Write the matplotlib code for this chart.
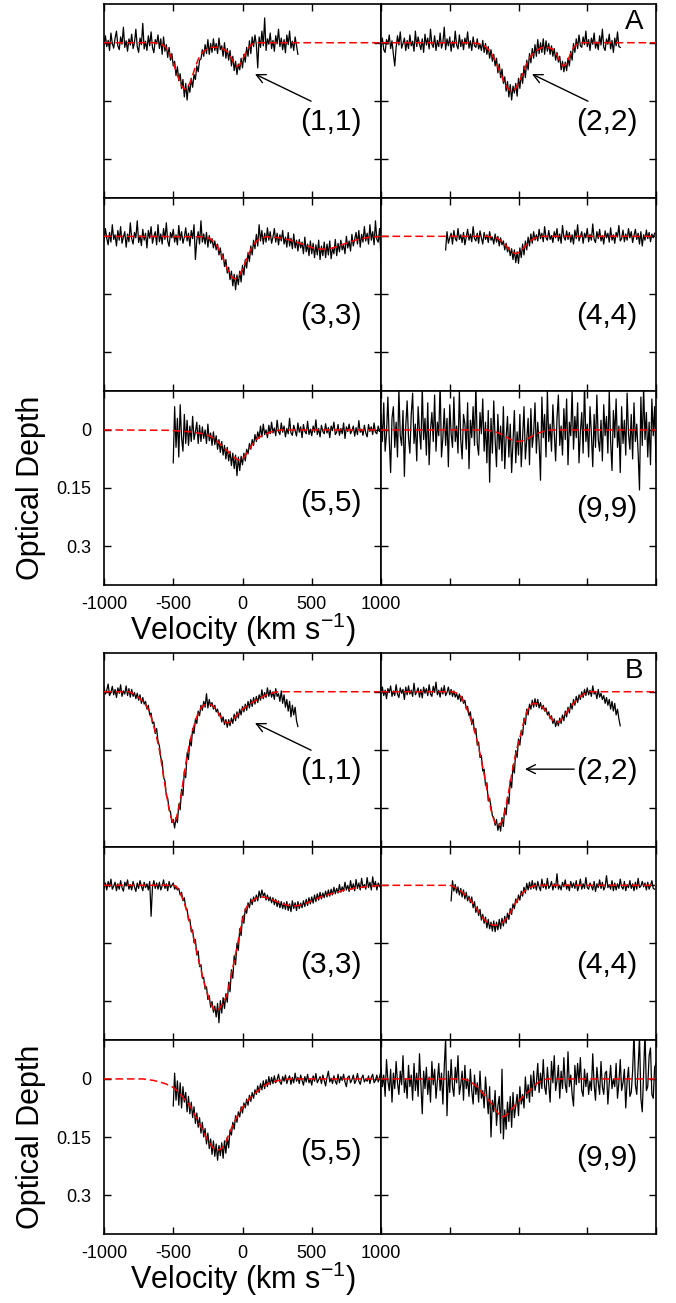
import numpy as np
import matplotlib
matplotlib.use("Agg")
import matplotlib.pyplot as plt

plt.rcParams['font.family'] = ['Liberation Sans', 'DejaVu Sans']
plt.rcParams['mathtext.fontset'] = 'custom'
plt.rcParams['mathtext.rm'] = 'Liberation Sans'

SPEC_STEP = 10  # km/s between spectrum channels
FIT_STEP = 20   # km/s between fit knots

VEL_TICKS = [-1000, -500, 0, 500, 1000]
VEL_LABELS = ['-1000', '-500', '0', '500', '1000']
TAU_TICKS = [0, 0.15, 0.3]
TAU_LABELS = ['0', '0.15', '0.3']

# ---- block A -------------------------------------------------------------
a11_v0 = -1000
a11_tau = [0.005, -0.018, 0.010, -0.006, 0.020, -0.025, 0.002, 0.014, -0.012, -0.030,
           0.008, 0.018, -0.015, 0.004, -0.040, 0.012, -0.005, 0.022, -0.010, 0.006,
           -0.022, 0.015, 0.000, -0.035, 0.010, 0.025, -0.012, 0.005, -0.050, 0.016,
           -0.004, 0.020, -0.018, 0.008, -0.028, 0.012, 0.026, -0.008, 0.003, -0.020,
           0.015, -0.010, 0.030, -0.015, 0.022, 0.005, 0.038, 0.012, 0.045, 0.028,
           0.060, 0.048, 0.085, 0.062, 0.098, 0.080, 0.118, 0.095, 0.140, 0.105,
           0.148, 0.110, 0.128, 0.092, 0.115, 0.082, 0.095, 0.060, 0.075, 0.045,
           0.042, 0.018, 0.035, 0.005, 0.028, -0.008, 0.030, 0.002, 0.025, -0.010,
           0.020, 0.002, 0.028, -0.012, 0.018, 0.008, 0.035, 0.000, 0.040, 0.015,
           0.045, 0.020, 0.060, 0.035, 0.072, 0.048, 0.082, 0.055, 0.070, 0.040,
           0.065, 0.030, 0.050, 0.012, 0.035, -0.005, 0.028, -0.015, 0.010, -0.020,
           0.005, 0.065, -0.015, 0.012, -0.030, 0.008, -0.064, 0.020, -0.010, 0.004,
           -0.025, 0.015, -0.006, 0.022, -0.018, 0.003, -0.035, 0.010, -0.012, 0.018,
           -0.008, 0.026, -0.020, 0.005, -0.030, 0.014, -0.004, 0.020, -0.015, 0.008,
           0.030]
a11_fit_v0 = -640
a11_fit = [0.000, 0.001, 0.002, 0.005, 0.010, 0.019, 0.033, 0.051, 0.073, 0.094,
           0.111, 0.120, 0.117, 0.104, 0.084, 0.062, 0.043, 0.030, 0.022, 0.017,
           0.013, 0.012, 0.012, 0.012, 0.013, 0.016, 0.020, 0.028, 0.040, 0.053,
           0.061, 0.057, 0.044, 0.028, 0.015, 0.006, 0.002, 0.000]

a22_v0 = -1000
a22_tau = [0.010, -0.012, 0.018, 0.025, -0.008, 0.004, -0.020, 0.015, -0.005, 0.030,
           0.060, 0.012, -0.018, 0.006, -0.028, 0.014, 0.002, -0.012, 0.020, -0.006,
           0.015, -0.020, 0.008, -0.004, 0.022, -0.030, 0.010, -0.015, 0.003, 0.018,
           -0.010, 0.025, -0.022, 0.006, -0.012, 0.016, -0.035, 0.004, 0.012, -0.018,
           0.020, -0.006, 0.010, -0.025, 0.014, 0.000, -0.040, 0.018, -0.010, 0.008,
           -0.015, 0.022, -0.004, 0.012, -0.030, 0.006, 0.016, -0.020, 0.010, -0.008,
           0.018, -0.012, 0.004, -0.028, 0.014, -0.005, 0.020, -0.015, 0.008, 0.012,
           -0.010, 0.016, 0.004, 0.020, -0.006, 0.025, 0.002, 0.030, 0.010, 0.040,
           0.018, 0.048, 0.030, 0.060, 0.040, 0.078, 0.055, 0.090, 0.068, 0.105,
           0.088, 0.125, 0.100, 0.140, 0.108, 0.148, 0.112, 0.130, 0.105, 0.138,
           0.092, 0.118, 0.080, 0.105, 0.060, 0.090, 0.045, 0.070, 0.028, 0.052,
           0.015, 0.040, 0.005, 0.035, -0.008, 0.028, 0.000, 0.025, -0.010, 0.030,
           -0.005, 0.022, 0.002, 0.030, 0.008, 0.035, 0.015, 0.045, 0.025, 0.050,
           0.035, 0.070, 0.048, 0.075, 0.050, 0.072, 0.040, 0.060, 0.022, 0.045,
           0.002, 0.025, -0.010, 0.015, -0.020, 0.008, 0.012, -0.015, 0.005, -0.030,
           0.010, -0.008, 0.020, -0.012, 0.004, -0.025, 0.014, -0.002, 0.018, -0.018,
           0.006, -0.035, 0.012, 0.020, -0.010, 0.004, -0.022, 0.016, -0.006, 0.025,
           -0.012, 0.008, -0.028, 0.010, 0.012]
a22_fit_v0 = -340
a22_fit = [0.000, 0.001, 0.002, 0.003, 0.006, 0.010, 0.017, 0.026, 0.039, 0.054,
           0.071, 0.089, 0.105, 0.117, 0.124, 0.124, 0.117, 0.105, 0.089, 0.071,
           0.054, 0.039, 0.030, 0.024, 0.018, 0.014, 0.012, 0.011, 0.013, 0.015,
           0.020, 0.032, 0.048, 0.060, 0.058, 0.045, 0.027, 0.013, 0.005, 0.001,
           0.000]

a33_v0 = -1000
a33_tau = [0.012, -0.020, 0.005, 0.022, -0.010, 0.015, -0.030, 0.008, -0.004, 0.025,
           -0.015, 0.010, -0.025, 0.018, 0.002, -0.012, 0.028, -0.006, 0.014, -0.035,
           0.006, 0.020, -0.010, 0.004, -0.040, 0.016, -0.002, 0.024, -0.018, 0.010,
           -0.008, 0.030, -0.015, 0.005, -0.025, 0.018, 0.000, -0.012, 0.022, -0.030,
           0.014, -0.006, 0.020, -0.020, 0.008, -0.035, 0.012, 0.026, -0.010, 0.004,
           -0.018, 0.015, -0.004, 0.022, -0.028, 0.010, -0.012, 0.018, 0.002, -0.022,
           0.012, -0.008, 0.025, -0.015, 0.006, -0.030, 0.060, 0.010, -0.012, 0.020,
           -0.040, 0.015, -0.006, 0.020, -0.010, 0.028, -0.002, 0.018, 0.006, 0.030,
           0.012, 0.035, 0.020, 0.048, 0.030, 0.060, 0.045, 0.078, 0.060, 0.095,
           0.080, 0.112, 0.090, 0.128, 0.098, 0.138, 0.100, 0.125, 0.090, 0.118,
           0.075, 0.100, 0.060, 0.082, 0.042, 0.065, 0.025, 0.048, 0.010, 0.032,
           -0.005, 0.025, -0.030, 0.012, -0.015, 0.020, -0.008, 0.015, -0.022, 0.010,
           -0.012, 0.018, 0.002, -0.020, 0.015, -0.008, 0.022, -0.004, 0.012, -0.015,
           0.020, 0.002, 0.028, -0.010, 0.025, 0.005, 0.032, -0.006, 0.030, 0.010,
           0.038, 0.008, 0.030, 0.015, 0.045, 0.002, 0.040, 0.020, 0.050, 0.012,
           0.045, 0.018, 0.055, 0.022, 0.048, 0.010, 0.060, 0.025, 0.050, 0.015,
           0.055, 0.020, 0.048, 0.012, 0.058, 0.030, 0.045, 0.008, 0.050, 0.018,
           0.040, 0.010, 0.035, 0.022, 0.045, 0.000, 0.030, 0.012, 0.038, -0.005,
           0.025, 0.008, -0.010, 0.020, -0.015, 0.028, -0.005, 0.015, -0.025, 0.012,
           -0.008, 0.020, -0.030, 0.010, -0.012, 0.022, -0.040, 0.008, 0.015, -0.020,
           0.060]
a33_fit_v0 = -300
a33_fit = [0.001, 0.001, 0.003, 0.005, 0.010, 0.017, 0.027, 0.041, 0.058, 0.076,
           0.092, 0.104, 0.110, 0.108, 0.099, 0.084, 0.067, 0.049, 0.034, 0.022,
           0.013, 0.007, 0.004, 0.002, 0.001, 0.002, 0.002, 0.003, 0.003, 0.005,
           0.006, 0.008, 0.009, 0.012, 0.014, 0.016, 0.019, 0.021, 0.024, 0.026,
           0.029, 0.031, 0.032, 0.033, 0.033, 0.033, 0.032, 0.031, 0.029, 0.027,
           0.024, 0.021, 0.019, 0.016, 0.014, 0.012, 0.009, 0.008, 0.006, 0.005,
           0.003, 0.003, 0.002, 0.001, 0.001, 0.000]

a44_v0 = -530
a44_tau = [0.035, -0.012, 0.018, 0.004, -0.008, 0.020, -0.015, 0.006, 0.012, -0.020,
           0.008, -0.004, 0.016, -0.010, 0.022, 0.002, -0.018, 0.010, -0.006, 0.014,
           -0.025, 0.006, 0.012, -0.008, 0.018, -0.014, 0.004, 0.020, -0.010, 0.008,
           -0.004, 0.016, -0.012, 0.010, 0.002, 0.020, -0.006, 0.015, 0.000, 0.025,
           0.004, 0.022, 0.012, 0.035, 0.018, 0.040, 0.028, 0.050, 0.032, 0.060,
           0.035, 0.068, 0.040, 0.070, 0.030, 0.055, 0.020, 0.048, 0.012, 0.035,
           0.002, 0.025, -0.006, 0.018, -0.012, 0.010, -0.004, 0.012, -0.018, 0.006,
           -0.008, 0.014, -0.025, 0.004, 0.010, -0.015, 0.008, -0.002, 0.016, -0.012,
           0.004, -0.020, 0.012, -0.006, 0.018, -0.028, 0.002, 0.010, -0.014, 0.008,
           -0.010, 0.015, -0.004, 0.020, -0.016, 0.006, -0.030, 0.012, 0.000, -0.012,
           0.018, -0.008, 0.004, -0.020, 0.014, -0.005, 0.010, -0.032, 0.008, 0.016,
           -0.012, 0.006, -0.018, 0.012, -0.002, 0.020, -0.014, 0.004, -0.008, 0.015,
           -0.022, 0.010, -0.004, 0.018, -0.010, 0.002, -0.028, 0.012, 0.006, -0.016,
           0.014, -0.006, 0.010, -0.020, 0.004, -0.012, 0.016, -0.002, -0.018, 0.008,
           -0.008, 0.020, -0.012, 0.025, -0.004, 0.010, -0.016, 0.006, -0.010, 0.014,
           -0.006, 0.004, -0.008]
a44_fit_v0 = -230
a44_fit = [0.000, 0.001, 0.001, 0.003, 0.006, 0.011, 0.017, 0.025, 0.033, 0.040,
           0.044, 0.044, 0.040, 0.033, 0.025, 0.017, 0.011, 0.006, 0.003, 0.001,
           0.000]

a55_v0 = -500
a55_tau = [0.085, -0.060, 0.045, -0.030, 0.070, -0.065, 0.020, 0.055, -0.040, 0.035,
           -0.025, 0.040, -0.010, 0.030, -0.035, 0.025, 0.005, -0.020, 0.035, -0.012,
           0.030, -0.008, 0.022, 0.000, 0.035, -0.015, 0.028, 0.008, 0.040, 0.005,
           0.038, 0.015, 0.050, 0.025, 0.058, 0.030, 0.065, 0.040, 0.075, 0.045,
           0.080, 0.055, 0.092, 0.060, 0.100, 0.065, 0.118, 0.070, 0.105, 0.068,
           0.090, 0.060, 0.080, 0.050, 0.062, 0.035, 0.050, 0.025, 0.040, 0.012,
           0.030, 0.005, 0.022, -0.010, 0.018, -0.015, 0.012, 0.000, 0.020, -0.012,
           0.010, -0.020, 0.008, -0.005, 0.015, -0.025, 0.004, 0.012, -0.018, 0.006,
           -0.010, 0.018, -0.004, 0.010, -0.030, 0.008, 0.014, -0.012, 0.002, 0.016,
           -0.018, 0.006, -0.008, 0.020, -0.014, 0.004, 0.010, -0.022, 0.012, -0.002,
           0.015, -0.010, 0.006, -0.026, 0.012, -0.004, 0.018, -0.012, 0.004, 0.010,
           -0.016, 0.008, -0.006, 0.020, -0.010, 0.002, -0.020, 0.012, 0.006, -0.014,
           0.014, -0.004, 0.010, -0.018, 0.022, -0.008, 0.004, -0.015, 0.010, 0.002,
           -0.010, 0.016, -0.006, 0.012, -0.024, 0.006, -0.002, 0.014, -0.012, 0.008,
           0.018, -0.014, 0.004, -0.008, 0.012, -0.018, 0.006, 0.010, -0.010, 0.004,
           -0.005]
a55_fit_v0 = -520
a55_fit = [0.001, 0.002, 0.002, 0.003, 0.003, 0.004, 0.004, 0.005, 0.006, 0.007,
           0.008, 0.009, 0.010, 0.012, 0.015, 0.019, 0.024, 0.030, 0.037, 0.044,
           0.051, 0.058, 0.065, 0.071, 0.076, 0.078, 0.075, 0.066, 0.055, 0.043,
           0.033, 0.025, 0.019, 0.015, 0.012, 0.009, 0.006, 0.004, 0.002, 0.001,
           0.000]

a99_v0 = -1000
a99_tau = [-0.040, 0.030, -0.070, 0.055, 0.010, -0.085, 0.025, 0.110, -0.030, -0.060,
           0.045, -0.020, 0.070, -0.105, 0.015, 0.040, -0.050, 0.120, -0.010, -0.075,
           0.020, 0.060, -0.040, -0.095, 0.035, -0.015, 0.080, -0.060, 0.005, 0.050,
           -0.110, 0.025, -0.030, 0.065, -0.070, 0.090, 0.000, -0.045, 0.030, -0.090,
           0.055, -0.020, 0.015, -0.120, 0.070, 0.020, -0.055, 0.040, -0.030, 0.095,
           -0.065, 0.010, 0.045, -0.085, 0.030, -0.010, 0.060, -0.100, 0.025, 0.075,
           -0.040, -0.015, 0.050, -0.070, 0.100, -0.025, 0.020, -0.060, 0.040, -0.115,
           0.035, 0.065, -0.045, 0.010, -0.080, 0.055, -0.020, 0.085, -0.050, 0.135,
           -0.030, 0.060, -0.075, 0.025, 0.095, -0.040, 0.050, -0.010, 0.080, -0.060,
           0.100, 0.020, -0.035, 0.070, -0.015, 0.110, 0.030, -0.050, 0.085, 0.005,
           0.065, -0.040, 0.095, 0.015, -0.060, 0.075, 0.025, -0.030, 0.090, -0.055,
           0.045, 0.010, -0.070, 0.060, -0.020, 0.035, 0.130, -0.085, 0.020, -0.040,
           0.070, -0.100, 0.030, -0.015, 0.055, -0.065, 0.010, 0.080, -0.030, -0.090,
           0.040, -0.010, 0.065, -0.055, 0.025, -0.080, 0.090, -0.020, 0.015, -0.105,
           0.050, -0.035, 0.020, -0.070, 0.085, 0.005, -0.045, 0.060, -0.120, 0.030,
           -0.015, 0.070, -0.060, 0.010, 0.095, -0.040, 0.045, -0.090, 0.025, 0.055,
           -0.025, 0.080, -0.065, 0.015, -0.035, 0.060, -0.100, 0.030, 0.105, -0.050,
           0.020, -0.080, 0.045, -0.010, 0.110, -0.060, 0.035, -0.025, 0.065, -0.095,
           0.010, 0.050, -0.040, 0.075, -0.070, 0.030, -0.015, 0.060, 0.155, -0.085,
           0.040, -0.110, 0.025, -0.045, 0.070, -0.020, 0.090, -0.080, 0.015, -0.060,
           0.085]
a99_fit_v0 = -240
a99_fit = [0.000, 0.001, 0.003, 0.004, 0.006, 0.009, 0.012, 0.016, 0.020, 0.024,
           0.027, 0.029, 0.030, 0.029, 0.027, 0.024, 0.020, 0.016, 0.012, 0.009,
           0.006, 0.004, 0.003, 0.001, 0.000]

# ---- block B -------------------------------------------------------------
b11_v0 = -1000
b11_tau = [-0.012, 0.006, -0.004, -0.020, 0.010, 0.002, -0.014, 0.008, -0.006, 0.015,
           -0.010, 0.004, -0.018, 0.012, -0.002, 0.006, -0.015, 0.010, -0.008, 0.014,
           -0.006, 0.012, 0.002, 0.018, 0.004, 0.022, 0.008, 0.030, 0.015, 0.032,
           0.025, 0.045, 0.035, 0.060, 0.055, 0.082, 0.078, 0.108, 0.095, 0.128,
           0.140, 0.170, 0.180, 0.222, 0.230, 0.268, 0.275, 0.305, 0.310, 0.338,
           0.330, 0.352, 0.325, 0.338, 0.290, 0.305, 0.252, 0.268, 0.205, 0.222,
           0.158, 0.175, 0.125, 0.140, 0.095, 0.108, 0.070, 0.082, 0.050, 0.062,
           0.035, 0.048, 0.025, 0.040, 0.005, 0.042, 0.020, 0.038, 0.028, 0.045,
           0.035, 0.052, 0.045, 0.062, 0.055, 0.078, 0.065, 0.085, 0.072, 0.092,
           0.072, 0.088, 0.068, 0.082, 0.058, 0.075, 0.052, 0.068, 0.045, 0.060,
           0.038, 0.052, 0.032, 0.048, 0.025, 0.042, 0.020, 0.038, 0.015, 0.032,
           0.012, 0.028, 0.008, 0.022, -0.005, 0.018, 0.002, 0.015, -0.010, 0.012,
           -0.004, 0.014, 0.000, 0.020, -0.008, 0.012, 0.005, 0.025, -0.002, 0.030,
           0.008, 0.040, 0.020, 0.050, 0.025, 0.065, 0.035, 0.060, 0.040, 0.075,
           0.090]
b11_fit_v0 = -820
b11_fit = [0.000, 0.003, 0.007, 0.012, 0.018, 0.025, 0.034, 0.045, 0.065, 0.090,
           0.118, 0.150, 0.195, 0.240, 0.285, 0.320, 0.340, 0.330, 0.300, 0.260,
           0.210, 0.165, 0.130, 0.100, 0.075, 0.055, 0.042, 0.035, 0.032, 0.032,
           0.035, 0.042, 0.052, 0.064, 0.074, 0.080, 0.080, 0.076, 0.068, 0.060,
           0.052, 0.045, 0.040, 0.035, 0.030, 0.026, 0.022, 0.018, 0.014, 0.010,
           0.007, 0.005, 0.003, 0.001, 0.000]

b22_v0 = -1000
b22_tau = [0.005, -0.012, 0.010, -0.004, 0.018, -0.008, 0.002, -0.015, 0.012, -0.002,
           0.010, -0.018, 0.006, 0.015, -0.010, 0.004, -0.006, 0.020, -0.012, 0.008,
           -0.015, 0.006, -0.004, 0.012, -0.022, 0.008, 0.000, -0.010, 0.014, -0.006,
           0.016, -0.012, 0.004, -0.008, 0.010, -0.018, 0.006, 0.012, -0.014, 0.002,
           -0.025, 0.008, -0.004, 0.014, -0.010, 0.006, -0.016, 0.010, 0.002, -0.012,
           0.008, -0.006, 0.012, -0.002, 0.014, 0.004, 0.020, 0.006, 0.025, 0.012,
           0.030, 0.022, 0.045, 0.038, 0.062, 0.052, 0.085, 0.070, 0.105, 0.095,
           0.138, 0.130, 0.170, 0.165, 0.205, 0.200, 0.242, 0.235, 0.282, 0.275,
           0.298, 0.320, 0.325, 0.345, 0.330, 0.358, 0.340, 0.360, 0.325, 0.348,
           0.300, 0.318, 0.272, 0.290, 0.228, 0.248, 0.190, 0.210, 0.152, 0.170,
           0.122, 0.138, 0.100, 0.112, 0.068, 0.085, 0.045, 0.060, 0.032, 0.045,
           0.022, 0.040, 0.018, 0.038, 0.020, 0.042, 0.028, 0.045, 0.035, 0.050,
           0.042, 0.060, 0.052, 0.070, 0.062, 0.082, 0.070, 0.090, 0.075, 0.088,
           0.068, 0.082, 0.060, 0.075, 0.050, 0.065, 0.040, 0.055, 0.030, 0.045,
           0.020, 0.035, 0.012, 0.028, 0.008, 0.020, 0.000, 0.015, -0.006, 0.010,
           -0.010, 0.008, -0.004, 0.012, -0.015, 0.006, 0.000, 0.018, -0.006, 0.014,
           0.004, 0.020, 0.010, 0.030, 0.015, 0.035, 0.020, 0.045, 0.025, 0.050,
           0.030, 0.060, 0.045, 0.070, 0.088]
b22_fit_v0 = -480
b22_fit = [0.000, 0.002, 0.005, 0.012, 0.025, 0.040, 0.058, 0.078, 0.100, 0.128,
           0.160, 0.195, 0.232, 0.270, 0.305, 0.330, 0.345, 0.345, 0.335, 0.310,
           0.275, 0.235, 0.195, 0.160, 0.130, 0.105, 0.075, 0.052, 0.038, 0.031,
           0.030, 0.032, 0.036, 0.042, 0.050, 0.060, 0.070, 0.078, 0.080, 0.076,
           0.068, 0.058, 0.048, 0.038, 0.030, 0.022, 0.016, 0.010, 0.005, 0.002,
           0.000]

b33_v0 = -1000
b33_tau = [0.008, -0.006, 0.012, -0.010, 0.004, -0.016, 0.010, 0.002, -0.008, 0.014,
           -0.004, 0.010, -0.012, 0.006, 0.015, -0.008, 0.002, -0.014, 0.010, -0.002,
           0.012, -0.010, 0.004, 0.016, -0.006, 0.008, -0.012, 0.002, 0.014, -0.008,
           0.006, -0.004, 0.012, -0.010, 0.080, 0.004, -0.012, 0.008, -0.006, 0.010,
           -0.008, 0.012, 0.002, -0.014, 0.008, -0.004, 0.014, -0.010, 0.006, 0.000,
           -0.006, 0.010, 0.004, 0.012, 0.008, 0.025, 0.018, 0.040, 0.032, 0.058,
           0.062, 0.090, 0.088, 0.120, 0.115, 0.148, 0.140, 0.180, 0.170, 0.210,
           0.205, 0.240, 0.238, 0.268, 0.262, 0.295, 0.285, 0.315, 0.300, 0.328,
           0.312, 0.340, 0.305, 0.355, 0.298, 0.330, 0.290, 0.318, 0.280, 0.302,
           0.250, 0.275, 0.218, 0.240, 0.182, 0.205, 0.150, 0.168, 0.112, 0.130,
           0.080, 0.098, 0.060, 0.072, 0.045, 0.058, 0.035, 0.050, 0.030, 0.042,
           0.025, 0.040, 0.015, 0.032, 0.012, 0.028, 0.020, 0.038, 0.025, 0.040,
           0.030, 0.045, 0.032, 0.050, 0.036, 0.055, 0.040, 0.058, 0.042, 0.060,
           0.045, 0.062, 0.042, 0.065, 0.048, 0.068, 0.040, 0.060, 0.045, 0.065,
           0.042, 0.060, 0.046, 0.058, 0.040, 0.055, 0.036, 0.052, 0.032, 0.048,
           0.030, 0.046, 0.025, 0.042, 0.022, 0.038, 0.018, 0.035, 0.020, 0.032,
           0.015, 0.030, 0.012, 0.028, 0.010, 0.025, 0.005, 0.022, 0.008, 0.020,
           -0.002, 0.018, 0.004, 0.015, -0.008, 0.012, 0.000, 0.016, -0.012, 0.010,
           -0.004, 0.014, -0.015, 0.008, -0.006, 0.012, -0.018, 0.006, -0.002, 0.010,
           -0.020, 0.006, -0.008, 0.012, -0.022, 0.004, -0.010, 0.012, -0.006, 0.002,
           0.008]
b33_fit_v0 = -500
b33_fit = [0.000, 0.002, 0.012, 0.028, 0.045, 0.070, 0.098, 0.125, 0.155, 0.190,
           0.218, 0.248, 0.272, 0.295, 0.312, 0.323, 0.322, 0.315, 0.303, 0.290,
           0.265, 0.230, 0.195, 0.160, 0.122, 0.090, 0.063, 0.050, 0.042, 0.038,
           0.033, 0.030, 0.030, 0.031, 0.033, 0.035, 0.038, 0.041, 0.044, 0.047,
           0.049, 0.051, 0.052, 0.053, 0.053, 0.052, 0.051, 0.049, 0.046, 0.043,
           0.040, 0.037, 0.034, 0.031, 0.028, 0.026, 0.024, 0.022, 0.020, 0.018,
           0.016, 0.014, 0.012, 0.011, 0.010, 0.008, 0.007, 0.006, 0.005, 0.004,
           0.003, 0.002, 0.002, 0.001, 0.001, 0.000]

b44_v0 = -490
b44_tau = [0.040, -0.012, 0.015, -0.002, 0.020, 0.004, 0.025, 0.008, 0.030, 0.012,
           0.035, 0.018, 0.040, 0.028, 0.045, 0.030, 0.058, 0.042, 0.070, 0.055,
           0.078, 0.062, 0.090, 0.075, 0.098, 0.082, 0.110, 0.088, 0.112, 0.095,
           0.118, 0.092, 0.120, 0.095, 0.115, 0.088, 0.112, 0.085, 0.105, 0.080,
           0.098, 0.072, 0.088, 0.060, 0.075, 0.048, 0.060, 0.035, 0.045, 0.025,
           0.038, 0.015, 0.028, 0.005, 0.020, -0.005, 0.012, -0.008, 0.010, -0.012,
           0.008, -0.006, 0.012, -0.010, 0.004, 0.014, -0.016, 0.006, -0.004, 0.010,
           -0.018, 0.008, 0.002, -0.010, 0.012, -0.004, 0.006, -0.030, 0.010, 0.000,
           0.012, -0.008, 0.004, -0.014, 0.010, -0.002, 0.014, -0.010, 0.006, -0.006,
           0.008, -0.012, 0.014, 0.002, -0.016, 0.010, -0.004, 0.008, -0.020, 0.006,
           0.010, -0.006, 0.002, 0.012, -0.010, 0.016, -0.004, 0.006, -0.014, 0.008,
           -0.008, 0.012, 0.004, -0.025, 0.006, -0.002, 0.010, -0.012, 0.014, -0.006,
           0.012, -0.004, 0.008, -0.016, 0.004, 0.010, -0.010, 0.014, -0.002, 0.006,
           -0.012, 0.008, -0.004, 0.014, -0.008, 0.010, -0.018, 0.006, 0.002, -0.010,
           0.004, -0.006, 0.012, -0.008, 0.010, 0.000, -0.012, 0.008, 0.010]
b44_fit_v0 = -500
b44_fit = [0.000, 0.002, 0.006, 0.010, 0.015, 0.021, 0.027, 0.034, 0.043, 0.053,
           0.063, 0.074, 0.084, 0.092, 0.097, 0.101, 0.103, 0.103, 0.101, 0.097,
           0.090, 0.082, 0.070, 0.058, 0.045, 0.033, 0.024, 0.016, 0.010, 0.006,
           0.003, 0.001, 0.000]

b55_v0 = -500
b55_tau = [0.070, -0.015, 0.055, 0.005, 0.068, 0.010, 0.075, 0.020, 0.060, 0.035,
           0.085, 0.045, 0.090, 0.060, 0.100, 0.072, 0.115, 0.088, 0.125, 0.100,
           0.140, 0.112, 0.150, 0.128, 0.168, 0.140, 0.180, 0.155, 0.195, 0.160,
           0.200, 0.168, 0.210, 0.172, 0.198, 0.165, 0.205, 0.160, 0.192, 0.150,
           0.178, 0.132, 0.145, 0.112, 0.130, 0.095, 0.112, 0.085, 0.098, 0.072,
           0.088, 0.062, 0.075, 0.052, 0.068, 0.042, 0.058, 0.035, 0.050, 0.028,
           0.040, 0.018, 0.035, 0.012, 0.028, 0.005, 0.025, 0.002, 0.020, -0.006,
           0.015, -0.004, 0.012, -0.008, 0.010, 0.002, -0.012, 0.008, 0.014, -0.006,
           0.006, -0.010, 0.012, 0.000, -0.008, 0.014, -0.004, 0.010, -0.015, 0.006,
           -0.004, 0.012, -0.010, 0.004, 0.016, -0.006, 0.008, -0.012, 0.010, 0.000,
           0.016, -0.008, 0.006, -0.014, 0.010, 0.002, -0.006, 0.012, -0.010, 0.004,
           0.018, -0.004, -0.020, 0.008, -0.002, 0.012, -0.008, 0.006, 0.014, -0.012,
           0.010, -0.006, 0.004, -0.012, 0.008, 0.020, -0.004, -0.008, 0.010, 0.002,
           -0.010, 0.012, 0.004, -0.014, 0.006, 0.014, -0.002, -0.010, 0.008, 0.000,
           0.006, -0.008, 0.012, -0.004, -0.012, 0.010, 0.004, -0.010, 0.008, -0.006,
           -0.020]
b55_fit_v0 = -720
b55_fit = [0.000, 0.001, 0.002, 0.003, 0.004, 0.006, 0.008, 0.010, 0.012, 0.015,
           0.018, 0.022, 0.028, 0.035, 0.043, 0.052, 0.060, 0.070, 0.082, 0.096,
           0.110, 0.124, 0.138, 0.152, 0.165, 0.175, 0.182, 0.184, 0.182, 0.175,
           0.162, 0.145, 0.128, 0.112, 0.098, 0.085, 0.074, 0.064, 0.055, 0.047,
           0.040, 0.034, 0.028, 0.022, 0.017, 0.013, 0.010, 0.008, 0.006, 0.004,
           0.003, 0.002, 0.001, 0.000]

b99_v0 = -1000
b99_tau = [-0.030, 0.020, -0.010, 0.045, -0.050, 0.005, 0.030, -0.025, 0.060, -0.015,
           0.025, -0.045, 0.010, 0.040, -0.020, 0.015, -0.060, 0.035, 0.000, 0.050,
           -0.035, 0.020, -0.010, 0.055, -0.040, 0.030, -0.015, 0.045, -0.065, 0.010,
           0.090, -0.020, 0.025, -0.030, 0.040, -0.005, 0.060, -0.045, 0.015, -0.025,
           0.050, 0.005, -0.040, 0.030, -0.015, 0.065, -0.030, -0.105, 0.095, -0.020,
           0.035, -0.050, 0.020, 0.045, -0.030, 0.010, -0.060, 0.040, 0.015, -0.020,
           0.055, -0.035, 0.025, 0.000, 0.045, -0.025, 0.030, 0.065, -0.010, 0.040,
           0.010, 0.060, -0.020, 0.050, 0.030, 0.075, -0.005, 0.045, 0.090, 0.020,
           0.150, 0.055, 0.085, 0.030, 0.120, 0.070, 0.045, 0.140, -0.025, 0.155,
           0.080, 0.130, 0.060, 0.110, 0.045, 0.125, 0.035, 0.100, 0.070, 0.040,
           0.095, 0.020, 0.065, 0.040, 0.075, -0.005, 0.050, 0.015, 0.060, -0.010,
           0.045, -0.020, 0.030, 0.010, -0.040, 0.035, -0.015, 0.025, -0.050, 0.020,
           0.040, -0.030, 0.015, 0.060, -0.045, 0.010, -0.060, 0.030, 0.005, -0.035,
           0.050, -0.020, 0.025, -0.055, 0.015, 0.035, -0.070, 0.020, -0.010, 0.040,
           0.070, -0.035, 0.015, -0.040, 0.010, -0.055, 0.030, 0.045, -0.025, 0.020,
           -0.015, 0.040, 0.005, 0.030, -0.065, 0.015, 0.055, -0.030, 0.010, 0.040,
           -0.045, 0.020, 0.040, -0.015, -0.020, 0.065, 0.010, -0.035, 0.025, 0.000,
           0.020, -0.040, 0.050, 0.010, -0.050, 0.030, 0.010, -0.025, 0.075, 0.005,
           -0.030, 0.045, 0.035, -0.020, -0.120, 0.015, 0.040, -0.030, -0.110, 0.050,
           0.085, -0.015, -0.125, 0.030, 0.020, -0.060, -0.080, 0.040, 0.050, -0.030,
           -0.040]
b99_fit_v0 = -400
b99_fit = [0.000, 0.002, 0.005, 0.010, 0.015, 0.021, 0.029, 0.037, 0.045, 0.053,
           0.062, 0.072, 0.083, 0.093, 0.098, 0.096, 0.090, 0.082, 0.074, 0.066,
           0.058, 0.050, 0.043, 0.037, 0.030, 0.023, 0.016, 0.010, 0.006, 0.003,
           0.001, 0.000]

# ---- layout (pixels of the 676x1303 image) --------------------------------
FIG_W, FIG_H = 676, 1303
COL_X = [104, 381]
COL_W = [277, 275]
BLOCK_TOP = [4, 653]
ROW_H = 193.6


def panel_rect(block, row, col):
    top = BLOCK_TOP[block] + row * ROW_H
    return [COL_X[col] / FIG_W, 1 - (top + ROW_H) / FIG_H,
            COL_W[col] / FIG_W, ROW_H / FIG_H]


def draw_panel(ax, v0, tau, fit_v0, fit, label, label_y):
    v = v0 + SPEC_STEP * np.arange(len(tau))
    ax.plot(v, tau, color='black', lw=0.9, zorder=2)
    fv = np.concatenate([[-1000], fit_v0 + FIT_STEP * np.arange(len(fit)), [1000]])
    ft = np.concatenate([[0.0], fit, [0.0]])
    ax.plot(fv, ft, color='red', lw=1.1, dashes=(5, 2.5), zorder=3)

    ax.set_xlim(-1000, 1000)
    ax.set_ylim(0.4, -0.1)
    ax.set_xticks(VEL_TICKS)
    ax.set_yticks(TAU_TICKS)
    ax.tick_params(direction='in', top=True, right=True, length=5, width=1.0,
                   labelbottom=False, labelleft=False)
    for sp in ax.spines.values():
        sp.set_linewidth(1.2)
    ax.text(0.82, label_y, label, transform=ax.transAxes, fontsize=21.5,
            ha='center', va='center')


fig = plt.figure(figsize=(FIG_W / 100, FIG_H / 100), dpi=100)

blocks = [
    [(a11_v0, a11_tau, a11_fit_v0, a11_fit, '(1,1)'),
     (a22_v0, a22_tau, a22_fit_v0, a22_fit, '(2,2)'),
     (a33_v0, a33_tau, a33_fit_v0, a33_fit, '(3,3)'),
     (a44_v0, a44_tau, a44_fit_v0, a44_fit, '(4,4)'),
     (a55_v0, a55_tau, a55_fit_v0, a55_fit, '(5,5)'),
     (a99_v0, a99_tau, a99_fit_v0, a99_fit, '(9,9)')],
    [(b11_v0, b11_tau, b11_fit_v0, b11_fit, '(1,1)'),
     (b22_v0, b22_tau, b22_fit_v0, b22_fit, '(2,2)'),
     (b33_v0, b33_tau, b33_fit_v0, b33_fit, '(3,3)'),
     (b44_v0, b44_tau, b44_fit_v0, b44_fit, '(4,4)'),
     (b55_v0, b55_tau, b55_fit_v0, b55_fit, '(5,5)'),
     (b99_v0, b99_tau, b99_fit_v0, b99_fit, '(9,9)')],
]

ARROW = dict(arrowstyle='->', lw=1.0, mutation_scale=16, shrinkA=0, shrinkB=0)

for b, (panels, tag) in enumerate(zip(blocks, ['A', 'B'])):
    axes = {}
    for k, (v0, tau, fv0, fit, label) in enumerate(panels):
        row, col = divmod(k, 2)
        ax = fig.add_axes(panel_rect(b, row, col))
        label_y = 0.42 if label == '(5,5)' else 0.39
        draw_panel(ax, v0, tau, fv0, fit, label, label_y)
        axes[(row, col)] = ax

    axes[(0, 1)].text(0.92, 0.905, tag, transform=axes[(0, 1)].transAxes,
                      fontsize=20, ha='center', va='center')

    # arrows pointing at the (1,1) and (2,2) satellite features
    axes[(0, 0)].annotate('', xy=(90, 0.081), xytext=(495, 0.151), arrowprops=ARROW)
    if tag == 'A':
        axes[(0, 1)].annotate('', xy=(98, 0.081), xytext=(505, 0.151), arrowprops=ARROW)
    else:
        axes[(0, 1)].annotate('', xy=(47, 0.2), xytext=(405, 0.2), arrowprops=ARROW)

    bl = axes[(2, 0)]
    bl.tick_params(labelbottom=True, labelleft=True, labelsize=13)
    bl.tick_params(axis='x', pad=8)
    bl.tick_params(axis='y', pad=9)
    bl.set_xticklabels(VEL_LABELS)
    bl.set_yticklabels(TAU_LABELS)
    bl.set_xlabel(r'Velocity (km s$^{\mathregular{-1}}$)', fontsize=22)
    bl.set_ylabel('Optical Depth', fontsize=22)
    bl.xaxis.set_label_coords(0.5, -0.135)
    bl.yaxis.set_label_coords(-0.21, 0.5)

fig.savefig('out.png', dpi=100)
